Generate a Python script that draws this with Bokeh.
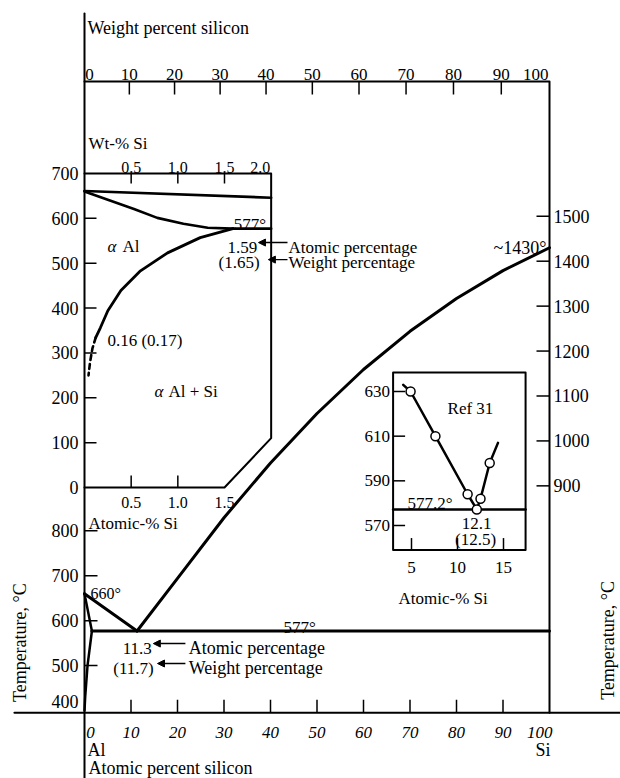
import math
from bokeh.plotting import figure
from bokeh.models import Range1d, Arrow, NormalHead
from bokeh.core.properties import value
from bokeh.embed import file_html
from bokeh.resources import INLINE

# ------------------------------------------------------------------ data
# Main diagram: atomic % Si (x) vs temperature in deg C (y)
al_melt_t = 660
si_melt_t = 1430
eutectic_t = 577
eutectic_at = 11.3
eutectic_wt = 11.7
max_sol_at = 1.59
max_sol_wt = 1.65
solvus300_at = 0.16
solvus300_wt = 0.17

liq_al_x = [0.0, 11.3]
liq_al_t = [660, 577]
liq_si_x = [11.3, 20, 30, 40, 50, 60, 70, 80, 90, 100]
liq_si_t = [577, 694, 829, 951, 1061, 1159, 1244, 1317, 1379, 1430]
solidus_x = [0.0, 1.59]
solidus_t = [660, 577]
solvus_x = [1.59, 0.65, 0.15, 0.0]
solvus_t = [577, 500, 430, 400]
eut_line_x = [1.59, 100]
eut_line_t = [577, 577]

main_at_ticks = [0, 10, 20, 30, 40, 50, 60, 70, 80, 90, 100]
main_wt_ticks = [0, 10, 20, 30, 40, 50, 60, 70, 80, 90, 100]
main_left_ticks = [400, 500, 600, 700, 800]
main_right_ticks = [900, 1000, 1100, 1200, 1300, 1400, 1500]

# Left inset: Al-rich corner
ins_liq_x = [0.0, 2.0]
ins_liq_t = [661, 646]
ins_sol_x = [0.0, 0.28, 0.53, 0.78, 1.06, 1.32, 1.59]
ins_sol_t = [660, 639, 621, 601, 588, 579, 577]
ins_eut_x = [1.59, 2.0]
ins_eut_t = [577, 577]
ins_solvus_x = [1.59, 1.24, 0.89, 0.60, 0.39, 0.25, 0.17, 0.12]
ins_solvus_t = [577, 557, 523, 483, 439, 394, 356, 334]
ins_solvus_dash_x = [0.12, 0.085, 0.06, 0.043]
ins_solvus_dash_t = [334, 310, 280, 250]
ins_at_ticks = [0.5, 1.0, 1.5]
ins_wt_ticks = [0.5, 1.0, 1.5, 2.0]
ins_t_ticks = [0, 100, 200, 300, 400, 500, 600, 700]

# Right inset: eutectic region, Ref 31
ref_x = [4.9, 7.6, 11.1, 12.1, 12.5, 13.5]
ref_t = [630, 610, 584, 577.2, 582, 598]
ref_left_x = [4.1, 4.9, 7.6, 11.1, 12.1]
ref_left_t = [633, 630, 610, 584, 577.2]
ref_right_x = [12.1, 12.5, 13.5, 14.4]
ref_right_t = [577.2, 582, 598, 607]
ref_eut_t = 577.2
ref_eut_at = 12.1
ref_eut_wt = 12.5
ref_at_ticks = [5, 10, 15]
ref_t_ticks = [570, 590, 610, 630]

# ------------------------------------------------------------------ layout
W, H = 620, 778
FONT = "Liberation Serif"

# main system
M_X0, M_XS = 84.0, 4.65        # canvas x of 0 at.%, px per at.%
M_Y400, M_YS = 710.0, 0.4493   # canvas y of 400 C, px per C
M_TOP, M_BOT = 1800, 395
# left inset system
L_X0, L_XS = 84.0, 93.33
L_Y0, L_YS = 487.0, 0.4486
# right inset system
R_XA, R_XAPX, R_XS = 5.0, 411.0, 9.2
R_TA, R_TAPX, R_YS = 630.0, 391.0, 2.2333

p = figure(width=W, height=H, output_backend="svg", toolbar_location=None,
           x_axis_location=None, y_axis_location=None, min_border=0,
           x_range=Range1d(-M_X0 / M_XS, (W - M_X0) / M_XS),
           y_range=Range1d(400 - (H - M_Y400) / M_YS, 400 + M_Y400 / M_YS))
p.outline_line_color = None
p.background_fill_color = "white"
p.border_fill_color = "white"
p.xgrid.visible = False
p.ygrid.visible = False
p.extra_x_ranges = {
    "lx": Range1d(-L_X0 / L_XS, (W - L_X0) / L_XS),
    "rx": Range1d(R_XA - R_XAPX / R_XS, R_XA + (W - R_XAPX) / R_XS),
}
p.extra_y_ranges = {
    "ly": Range1d(-(H - L_Y0) / L_YS, L_Y0 / L_YS),
    "ry": Range1d(R_TA - (H - R_TAPX) / R_YS, R_TA + R_TAPX / R_YS),
}

SYS = {"m": ("default", "default", M_XS, M_YS),
       "l": ("lx", "ly", L_XS, L_YS),
       "r": ("rx", "ry", R_XS, R_YS)}


def line(xs, ys, sys="m", lw=3, dash="solid"):
    xr, yr, _, _ = SYS[sys]
    p.line(xs, ys, line_color="black", line_width=lw, line_dash=dash,
           x_range_name=xr, y_range_name=yr, line_join="round", line_cap="round")


def txt(x, y, s, sys="m", size=17, align="left", base="alphabetic",
        style="normal", angle=0.0, xo=0):
    xr, yr, _, _ = SYS[sys]
    p.text(x=[x], y=[y], text=[s], x_offset=xo, angle=angle,
           text_align=align, text_baseline=base,
           text_font=value(FONT), text_font_size=value(f"{size}px"),
           text_font_style=style, text_color="black",
           x_range_name=xr, y_range_name=yr)


def vticks(xs, y0, px, sys):
    xr, yr, _, ys_ = SYS[sys]
    n = len(xs)
    p.segment(x0=xs, y0=[y0] * n, x1=xs, y1=[y0 + px / ys_] * n,
              line_color="black", line_width=1.5, x_range_name=xr, y_range_name=yr)


def hticks(ys, x0, px, sys):
    xr, yr, xs_, _ = SYS[sys]
    n = len(ys)
    p.segment(x0=[x0] * n, y0=ys, x1=[x0 + px / xs_] * n, y1=ys,
              line_color="black", line_width=1.5, x_range_name=xr, y_range_name=yr)


def arrow(x_tail, x_head, y, sys="m"):
    xr, yr, _, _ = SYS[sys]
    p.add_layout(Arrow(end=NormalHead(size=7, line_color="black", fill_color="black", line_width=1),
                       x_start=x_tail, y_start=y, x_end=x_head, y_end=y,
                       line_color="black", line_width=1.4,
                       x_range_name=xr, y_range_name=yr))


A_AL, A_SI = 26.982, 28.086


def wt_to_at(w):
    return 100.0 * (w / A_SI) / (w / A_SI + (100.0 - w) / A_AL)


xr0, xr1 = p.x_range.start, p.x_range.end
yr0, yr1 = p.y_range.start, p.y_range.end

# ------------------------------------------------------------------ main frame
line([0, 0], [yr0, 400 + (M_Y400 - 13) / M_YS], lw=2)                # long left rule
line([xr0 + 14 / M_XS, xr1], [M_BOT, M_BOT], lw=2.2)                  # bottom rule
line([0, main_at_ticks[-1], main_at_ticks[-1]], [M_TOP, M_TOP, M_BOT], lw=2)

vticks(main_at_ticks[1:-1], M_BOT, 13, "m")
top_pos = [wt_to_at(w) for w in main_wt_ticks]
vticks(top_pos[1:-1], M_TOP, -13, "m")
hticks(main_left_ticks[1:], 0, 13, "m")
hticks(main_right_ticks, main_at_ticks[-1], -13, "m")

# tick labels
yb = M_BOT - 20 / M_YS
for v in main_at_ticks[1:-1]:
    txt(v, yb, str(v), size=17, align="center", style="italic")
txt(main_at_ticks[0], yb, str(main_at_ticks[0]), size=17, align="center", style="italic", xo=6)
txt(main_at_ticks[-1], yb, str(main_at_ticks[-1]), size=17, align="right", style="italic", xo=3)

yt = M_TOP + 7 / M_YS
for w, pos in zip(main_wt_ticks[1:-1], top_pos[1:-1]):
    txt(pos, yt, str(w), size=17, align="center")
txt(top_pos[0], yt, str(main_wt_ticks[0]), size=17, align="center", xo=5)
txt(top_pos[-1], yt, str(main_wt_ticks[-1]), size=17, align="right", xo=-1)

for v in main_left_ticks[1:]:
    txt(0, v, str(v), size=18, align="right", base="middle", xo=-6)
txt(0, main_left_ticks[0] + 9 / M_YS, str(main_left_ticks[0]), size=18, align="right", base="middle", xo=-6)
for v in main_right_ticks:
    txt(main_at_ticks[-1], v, str(v), size=18, align="left", base="middle", xo=4)

txt(0.65, 1920, "Weight percent silicon", size=18)
txt(0.65, 311, "Al", size=18)
txt(100, 313, "Si", size=18, align="right", xo=1)
txt(0.86, 273, "Atomic percent silicon", size=18)
txt(-13.8, 551, "Temperature, °C", size=18, align="center", base="middle", angle=math.pi / 2)
txt(112.6, 556, "Temperature, °C", size=18, align="center", base="middle", angle=math.pi / 2)

# main curves
line(liq_al_x, liq_al_t)
line(liq_si_x, liq_si_t)
line(solidus_x, solidus_t, lw=2.5)
line(solvus_x, solvus_t, lw=2.5)
line(eut_line_x, eut_line_t)

txt(0, al_melt_t, f"{al_melt_t}°", size=16, xo=6)
txt(42.8, 585, f"{eutectic_t}°", size=17)
txt(100, si_melt_t, f"~{si_melt_t}°", size=18, align="right", xo=-3)
txt(8.2, 538, f"{eutectic_at}", size=17)
txt(6.2, 493.5, f"({eutectic_wt})", size=17)
txt(22.4, 538, "Atomic percentage", size=18)
txt(22.4, 493.5, "Weight percentage", size=18)
arrow(21.7, 14.8, 549)
arrow(21.7, 15.7, 504.6)

# ------------------------------------------------------------------ left inset
line([0, 2.0, 2.0, 1.5, 0], [700, 700, 110, 0, 0], "l", lw=2)
vticks(ins_wt_ticks[:-1], 700, -10, "l")
vticks(ins_at_ticks[:-1], 0, 12, "l")
hticks(ins_t_ticks[1:-1], 0, 12, "l")

for v in ins_t_ticks:
    txt(0, v, str(v), "l", size=18, align="right", base="middle", xo=-6)
for v in ins_wt_ticks[:-1]:
    txt(v, 700 + 6 / L_YS, f"{v:.1f}", "l", size=16, align="center")
txt(ins_wt_ticks[-1], 700 + 6 / L_YS, f"{ins_wt_ticks[-1]:.1f}", "l", size=16, align="right", xo=-1)
for v in ins_at_ticks:
    txt(v, 0 - 15 / L_YS, f"{v:.1f}", "l", size=16, align="center")
txt(0, 767, "Wt-% Si", "l", size=17, xo=4)
txt(0, -80, "Atomic-% Si", "l", size=17, xo=4)

line(ins_liq_x, ins_liq_t, "l", lw=2.6)
line(ins_sol_x, ins_sol_t, "l", lw=2.6)
line(ins_eut_x, ins_eut_t, "l", lw=2.6)
line(ins_solvus_x, ins_solvus_t, "l", lw=2.8)
line(ins_solvus_dash_x, ins_solvus_dash_t, "l", lw=2.6, dash="5 4")

txt(0.246, 537, "α", "l", size=17, style="italic")
txt(0.407, 537, "Al", "l", size=17)
txt(0.75, 214, "α", "l", size=17, style="italic")
txt(0.90, 214, "Al + Si", "l", size=17)
txt(1.60, 586, f"{eutectic_t}°", "l", size=17)
txt(1.532, 535, f"{max_sol_at}", "l", size=17)
txt(1.436, 501.6, f"({max_sol_wt})", "l", size=17)
txt(2.186, 535, "Atomic percentage", "l", size=17)
txt(2.186, 501.6, "Weight percentage", "l", size=17)
txt(0.246, 327.7, f"{solvus300_at} ({solvus300_wt})", "l", size=17)
arrow(2.175, 1.864, 546, "l")
arrow(2.175, 1.97, 508, "l")

# ------------------------------------------------------------------ right inset
RX0, RX1, RT0, RT1 = 3.0, 17.4, 559.0, 638.5
line([RX0, RX1, RX1, RX0, RX0], [RT0, RT0, RT1, RT1, RT0], "r", lw=2)
hticks(ref_t_ticks, RX0, 12, "r")
vticks(ref_at_ticks, RT0, 12, "r")
for v in ref_t_ticks:
    txt(RX0, v, str(v), "r", size=17, align="right", base="middle", xo=-3)
for v in ref_at_ticks:
    txt(v, RT0 - 17 / R_YS, str(v), "r", size=17, align="center")
txt(3.59, 537.3, "Atomic-% Si", "r", size=17)

line([RX0, RX1], [ref_eut_t, ref_eut_t], "r", lw=2.5)
line(ref_left_x, ref_left_t, "r", lw=2.5)
line(ref_right_x, ref_right_t, "r", lw=2.5)
p.scatter(ref_x, ref_t, size=9, marker="circle", fill_color="white",
          line_color="black", line_width=1.5, x_range_name="rx", y_range_name="ry")

txt(11.41, 622.4, "Ref 31", "r", size=17, align="center")
txt(4.57, 579.85, f"{ref_eut_t}°", "r", size=17)
txt(12.07, 570.9, f"{ref_eut_at}", "r", size=17, align="center")
txt(11.96, 563.7, f"({ref_eut_wt})", "r", size=17, align="center")

open("out.html", "w").write(file_html(p, INLINE))
